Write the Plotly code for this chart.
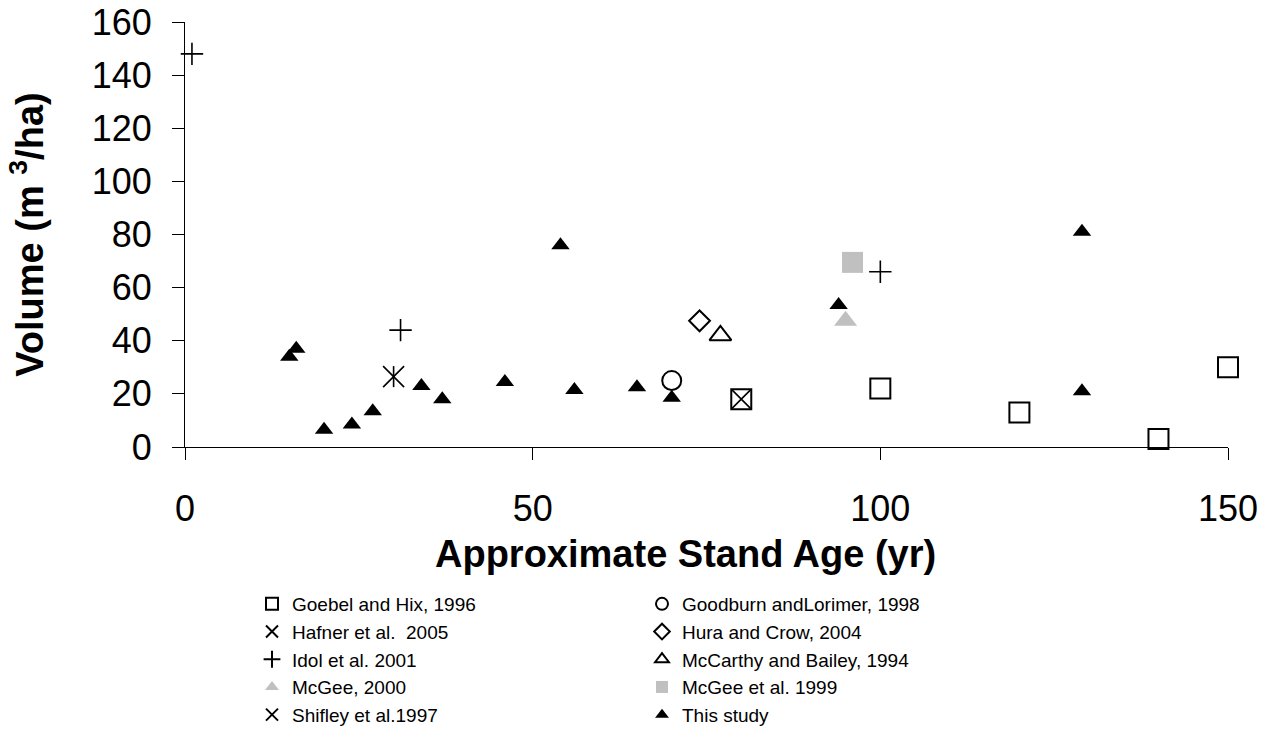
import plotly.graph_objects as go

# ---- data ----
goebel_x = [80, 100, 120, 140, 150]
goebel_y = [18, 22, 13, 3, 30]
goodburn_x = [70]
goodburn_y = [25]
hafner_x = [30]
hafner_y = [26.5]
hura_x = [74]
hura_y = [47.5]
idol_x = [1, 31, 100]
idol_y = [148, 44, 66]
mccarthy_x = [77]
mccarthy_y = [42]
mcgee2000_x = [95]
mcgee2000_y = [47.5]
mcgee1999_x = [96]
mcgee1999_y = [69.5]
shifley_x = [80]
shifley_y = [18]
study_x = [15, 16, 20, 24, 27, 34, 37, 46, 54, 56, 65, 70, 94, 129, 129]
study_y = [34, 37, 6.5, 8.5, 13.5, 23, 18, 24.5, 76, 21.5, 22.5, 18.5, 53.5, 81, 21]

x_ticks = [0, 50, 100, 150]
y_ticks = [0, 20, 40, 60, 80, 100, 120, 140, 160]

x_title = "Approximate Stand Age (yr)"
y_title = "Volume (m <sup>3</sup>/ha)"

FONT = "Arial, Liberation Sans, sans-serif"
GRAY = "#c0c0c0"

fig = go.Figure()

def add(name, x, y, symbol, size, color="black", line_w=2, line_color="black", showlegend=True, group=None):
    fig.add_trace(go.Scatter(
        x=x, y=y, mode="markers", name=name,
        legendgroup=group or name, showlegend=showlegend,
        cliponaxis=False,
        marker=dict(symbol=symbol, size=size, color=color,
                    line=dict(width=line_w, color=line_color)),
    ))

add("Goebel and Hix, 1996", goebel_x, goebel_y, "square-open", 20, line_w=2)
add("Goodburn andLorimer, 1998", goodburn_x, goodburn_y, "circle-open", 19, line_w=2)
add("Hafner et al.  2005", hafner_x, hafner_y, "x-thin", 21, line_w=1.6)
add("Hafner et al.  2005", hafner_x, hafner_y, "line-ns", 15, line_w=1.6, showlegend=False, group="Hafner et al.  2005")
add("Hura and Crow, 2004", hura_x, hura_y, "diamond-open", 16, line_w=2)
add("Idol et al. 2001", idol_x, idol_y, "cross-thin", 16, line_w=1.6)
add("McCarthy and Bailey, 1994", mccarthy_x, mccarthy_y, "triangle-up-open", 19, line_w=2)
add("McGee, 2000", mcgee2000_x, mcgee2000_y, "triangle-up", 20, color=GRAY, line_w=0, line_color=GRAY)
add("McGee et al. 1999", mcgee1999_x, mcgee1999_y, "square", 21, color=GRAY, line_w=0, line_color=GRAY)
add("Shifley et al.1997", shifley_x, shifley_y, "x-thin", 19, line_w=1.6)
add("This study", study_x, study_y, "triangle-up", 16, color="black", line_w=0)

fig.update_layout(
    width=1277, height=738,
    margin=dict(l=185, r=49, t=22, b=291, autoexpand=False),
    paper_bgcolor="white", plot_bgcolor="white",
    font=dict(family=FONT, color="black"),
    showlegend=True,
    legend=dict(
        orientation="h",
        xref="container", yref="container",
        x=252 / 1277, xanchor="left",
        y=1 - 585 / 738, yanchor="top",
        entrywidth=345, entrywidthmode="pixels",
        itemsizing="constant",
        font=dict(family=FONT, size=19, color="black"),
        bgcolor="rgba(0,0,0,0)",
        traceorder="normal",
    ),
    xaxis=dict(
        range=[0, 150], tickvals=x_ticks, ticktext=[str(v) for v in x_ticks],
        automargin=False,
        showgrid=False, zeroline=False,
        showline=True, linecolor="black", linewidth=1,
        ticks="outside", ticklen=12, tickcolor="black", tickwidth=1,
        tickfont=dict(family=FONT, size=36, color="black"),
        ticklabelstandoff=18,
    ),
    yaxis=dict(
        range=[0, 160], tickvals=y_ticks, ticktext=[str(v) for v in y_ticks],
        automargin=False,
        showgrid=False, zeroline=False,
        showline=True, linecolor="black", linewidth=1,
        ticks="outside", ticklen=12, tickcolor="black", tickwidth=1,
        tickfont=dict(family=FONT, size=36, color="black"),
        ticklabelstandoff=13,
        title=dict(text="<b>" + y_title + "</b>",
                   font=dict(family=FONT, size=38, color="black"), standoff=36),
    ),
    annotations=[dict(
        text="<b>" + x_title + "</b>",
        xref="paper", yref="paper",
        x=(685 - 185) / 1043, y=(447 - 554) / 425,
        xanchor="center", yanchor="middle",
        showarrow=False,
        font=dict(family=FONT, size=38, color="black"),
    )],
)

fig.write_html("out.html")
